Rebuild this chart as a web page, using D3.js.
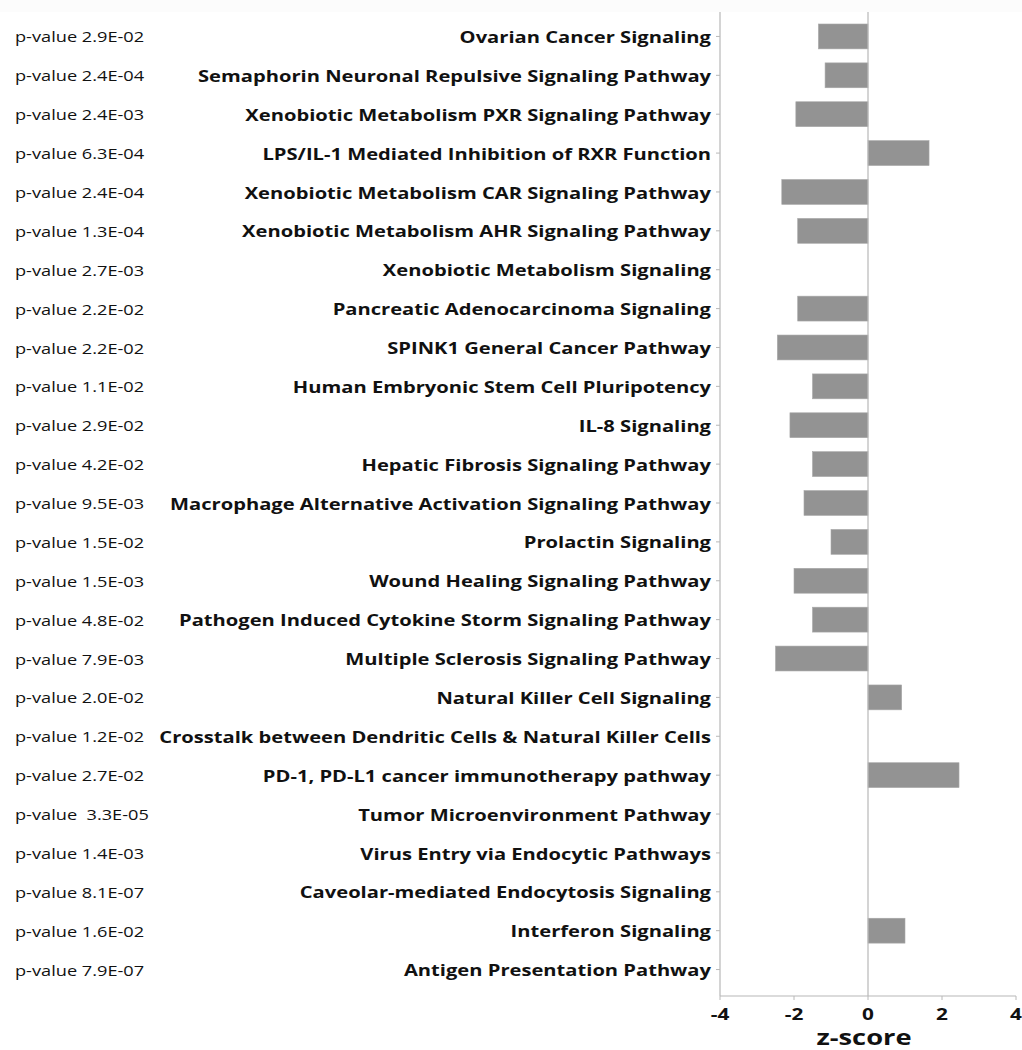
<!DOCTYPE html>
<html>
<head>
<meta charset="utf-8">
<script src="https://cdn.jsdelivr.net/npm/d3@7"></script>
<style>
  body { margin: 0; background: #fff; }
  svg text { font-family: "Open Sans", sans-serif; fill: #111; }
</style>
</head>
<body>
<svg id="chart" width="1022" height="1050"></svg>
<script>
// pathways, top to bottom
const pathways = [
  'Ovarian Cancer Signaling',
  'Semaphorin Neuronal Repulsive Signaling Pathway',
  'Xenobiotic Metabolism PXR Signaling Pathway',
  'LPS/IL-1 Mediated Inhibition of RXR Function',
  'Xenobiotic Metabolism CAR Signaling Pathway',
  'Xenobiotic Metabolism AHR Signaling Pathway',
  'Xenobiotic Metabolism Signaling',
  'Pancreatic Adenocarcinoma Signaling',
  'SPINK1 General Cancer Pathway',
  'Human Embryonic Stem Cell Pluripotency',
  'IL-8 Signaling',
  'Hepatic Fibrosis Signaling Pathway',
  'Macrophage Alternative Activation Signaling Pathway',
  'Prolactin Signaling',
  'Wound Healing Signaling Pathway',
  'Pathogen Induced Cytokine Storm Signaling Pathway',
  'Multiple Sclerosis Signaling Pathway',
  'Natural Killer Cell Signaling',
  'Crosstalk between Dendritic Cells & Natural Killer Cells',
  'PD-1, PD-L1 cancer immunotherapy pathway',
  'Tumor Microenvironment Pathway',
  'Virus Entry via Endocytic Pathways',
  'Caveolar-mediated Endocytosis Signaling',
  'Interferon Signaling',
  'Antigen Presentation Pathway'
]

const pvalues = [
  '2.9E-02', '2.4E-04', '2.4E-03', '6.3E-04', '2.4E-04', '1.3E-04', '2.7E-03',
  '2.2E-02', '2.2E-02', '1.1E-02', '2.9E-02', '4.2E-02', '9.5E-03', '1.5E-02',
  '1.5E-03', '4.8E-02', '7.9E-03', '2.0E-02', '1.2E-02', '2.7E-02', ' 3.3E-05',
  '1.4E-03', '8.1E-07', '1.6E-02', '7.9E-07'
]

// null = no z-score shown
const zscores = [
  -1.34, -1.16, -1.95, 1.65, -2.33, -1.9, null,
  -1.9, -2.45, -1.5, -2.11, -1.5, -1.73, -1.0,
  -2.0, -1.5, -2.5, 0.91, null, 2.46, null,
  null, null, 1.0, null
]

const xTicks = [-4, -2, 0, 2, 4]

const svg = d3.select('#chart')

// faint strip along the top edge
svg.append('rect')
  .attr('x', 0).attr('y', 0)
  .attr('width', 1022).attr('height', 12)
  .attr('fill', '#fcfcfc')

const x = d3.scaleLinear().domain([-4, 4]).range([720, 1016])
const y = d3.scaleBand().domain(pathways).range([17, 989]).paddingInner(0.36).paddingOuter(0.18)
const mid = d => y(d) + y.bandwidth() / 2

const axisY = 996
const grey = '#b8b8b8'
// the source text is wide, so stretch it a bit
const stretch = 1.3

// bars
svg.append('g')
  .selectAll('rect')
  .data(pathways.map((p, i) => ({p: p, z: zscores[i]})).filter(d => d.z !== null))
  .join('rect')
  .attr('x', d => x(Math.min(0, d.z)))
  .attr('y', d => y(d.p))
  .attr('width', d => Math.abs(x(d.z) - x(0)))
  .attr('height', y.bandwidth())
  .attr('fill', '#939393')
  .attr('stroke', '#a8a8a8')
  .attr('stroke-width', 0.6)

// zero line and left axis
svg.append('g')
  .selectAll('line')
  .data([-4, 0])
  .join('line')
  .attr('x1', d => x(d)).attr('x2', d => x(d))
  .attr('y1', 12).attr('y2', axisY)
  .attr('stroke', grey)
  .attr('stroke-width', 1.2)

svg.append('g')
  .selectAll('line')
  .data(pathways)
  .join('line')
  .attr('x1', x(-4) - 4).attr('x2', x(-4))
  .attr('y1', d => mid(d))
  .attr('y2', d => mid(d))
  .attr('stroke', grey)

// pathway labels
svg.append('g')
  .selectAll('text')
  .data(pathways)
  .join('text')
  .attr('transform', d => 'translate(711,' + (mid(d) + 1) + ') scale(' + stretch + ',1)')
  .attr('dy', '0.36em')
  .attr('text-anchor', 'end')
  .attr('font-size', 15.5)
  .attr('font-weight', 'bold')
  .text(d => d)

// p-value labels
svg.append('g')
  .selectAll('text')
  .data(pathways)
  .join('text')
  .attr('transform', d => 'translate(15,' + (mid(d) + 1) + ') scale(' + stretch + ',1)')
  .attr('dy', '0.36em')
  .attr('font-size', 14)
  .style('white-space', 'pre')
  .text((d, i) => 'p-value ' + pvalues[i])

// bottom axis
svg.append('line')
  .attr('x1', x(-4)).attr('x2', x(4))
  .attr('y1', axisY).attr('y2', axisY)
  .attr('stroke', grey)
  .attr('stroke-width', 1.2)

svg.append('g')
  .selectAll('line')
  .data(xTicks)
  .join('line')
  .attr('x1', d => x(d)).attr('x2', d => x(d))
  .attr('y1', axisY).attr('y2', axisY + 4)
  .attr('stroke', grey)

svg.append('g')
  .selectAll('text')
  .data(xTicks)
  .join('text')
  .attr('transform', d => 'translate(' + x(d) + ',1020) scale(' + stretch + ',1)')
  .attr('text-anchor', 'middle')
  .attr('font-size', 16)
  .attr('font-weight', 'bold')
  .text(d => d < 0 ? '-' + Math.abs(d) : d)

svg.append('text')
  .attr('transform', 'translate(' + (x(0) - 4) + ',1045) scale(1.3,1)')
  .attr('text-anchor', 'middle')
  .attr('font-size', 21)
  .attr('font-weight', 'bold')
  .text('z-score')
</script>
</body>
</html>
